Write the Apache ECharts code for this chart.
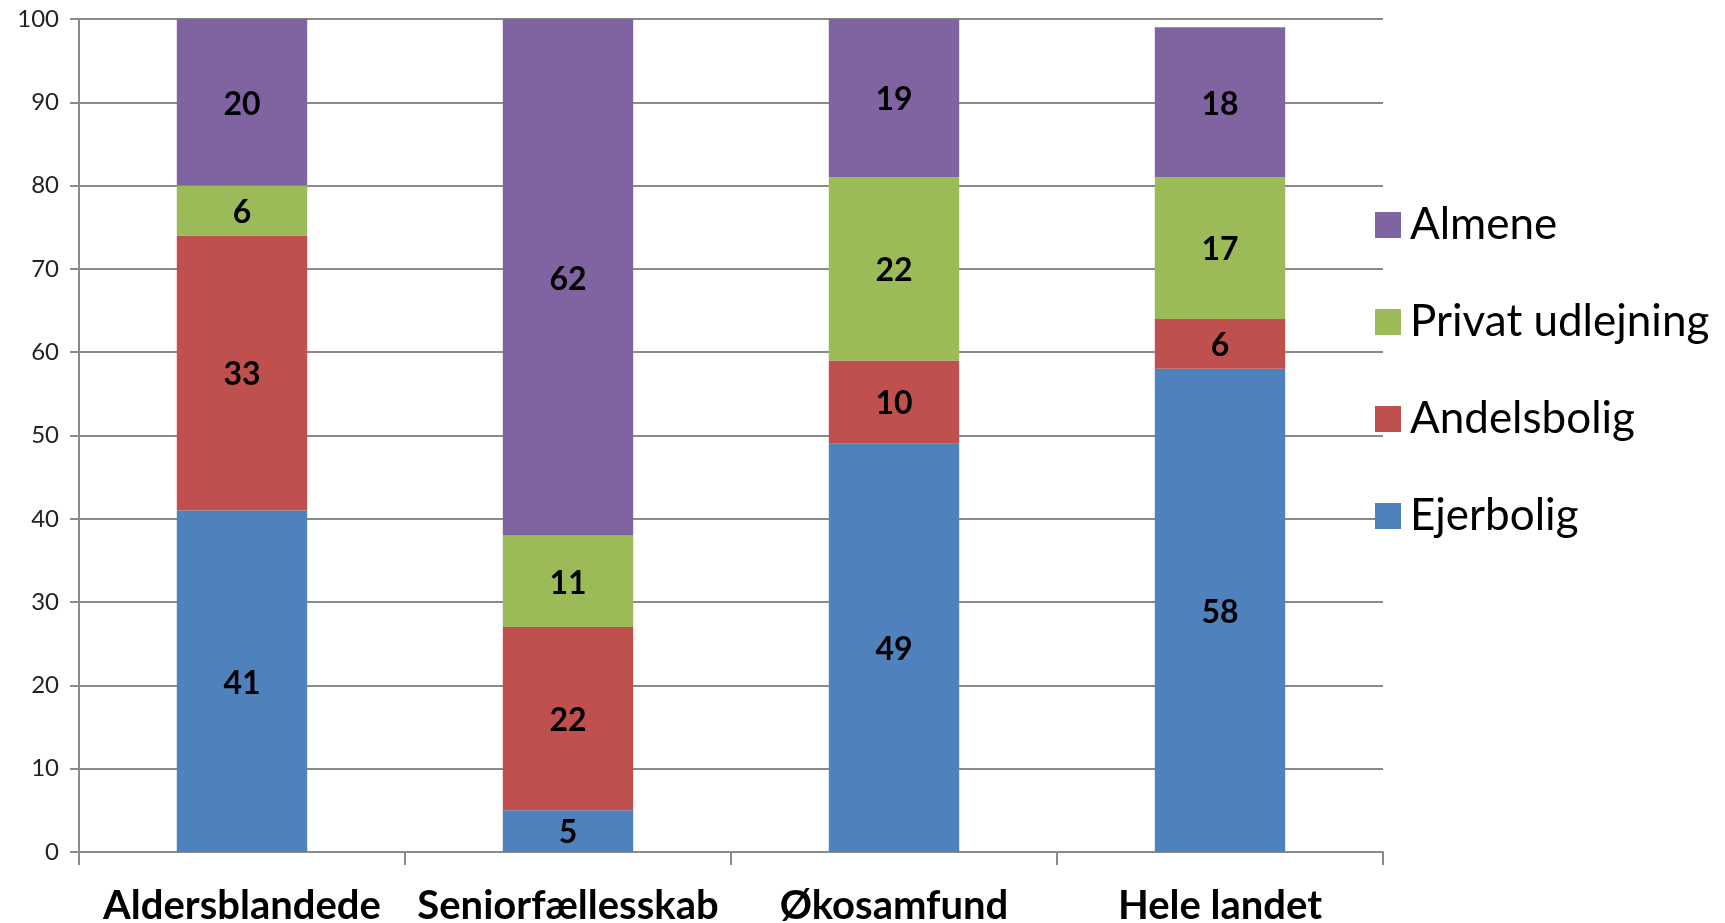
<!DOCTYPE html>
<html><head><meta charset="utf-8">
<script src="https://cdn.jsdelivr.net/npm/echarts@6/dist/echarts.min.js"></script>
<style>html,body{margin:0;padding:0;background:#fff}#c{width:1725px;height:923px}</style>
</head><body><div id="c"></div>
<script>
const categories = ['Aldersblandede', 'Seniorfællesskab', 'Økosamfund', 'Hele landet'];
const ejerbolig = [41, 5, 49, 58];
const andelsbolig = [33, 22, 10, 6];
const privatUdlejning = [6, 11, 22, 17];
const almene = [20, 62, 19, 18];
const yTicks = {min: 0, max: 100, interval: 10};

const font = 'Lato';
const label = {show: true, position: 'inside', fontFamily: font, fontWeight: 'bold', fontSize: 32, color: '#000', offset: [0, 2]};
function s(name, data, color) {
  return {name, type: 'bar', stack: 'a', data, barWidth: '40%', itemStyle: {color}, label};
}
const chart = echarts.init(document.getElementById('c'));
chart.setOption({
  animation: false,
  grid: {left: 79, right: 342, top: 19, bottom: 71, containLabel: false, outerBoundsMode: 'none'},
  legend: {
    data: ['Almene', 'Privat udlejning', 'Andelsbolig', 'Ejerbolig'],
    orient: 'vertical', left: 1370, top: 198, itemWidth: 26, itemHeight: 26, itemGap: 53,
    icon: 'rect',
    textStyle: {fontFamily: font, fontSize: 44, color: '#000', padding: [0, 0, 0, 4]}
  },
  xAxis: {
    type: 'category', data: categories,
    axisLine: {lineStyle: {color: '#8a8a8a', width: 2}},
    axisTick: {show: true, interval: 0, length: 13, lineStyle: {color: '#8a8a8a', width: 2}},
    axisLabel: {interval: 0, hideOverlap: false, fontFamily: font, fontWeight: 'bold', fontSize: 40, color: '#000', margin: 34}
  },
  yAxis: {
    type: 'value', min: yTicks.min, max: yTicks.max, interval: yTicks.interval,
    axisLine: {show: true, lineStyle: {color: '#8a8a8a', width: 2}},
    axisTick: {show: true, length: 9, lineStyle: {color: '#8a8a8a', width: 2}},
    splitLine: {lineStyle: {color: '#8a8a8a', width: 2}},
    axisLabel: {fontFamily: font, fontSize: 24, color: '#222', margin: 20}
  },
  series: [
    s('Ejerbolig', ejerbolig, '#4F81BD'),
    s('Andelsbolig', andelsbolig, '#C0504D'),
    s('Privat udlejning', privatUdlejning, '#9BBB59'),
    s('Almene', almene, '#8064A2')
  ]
});
</script></body></html>
